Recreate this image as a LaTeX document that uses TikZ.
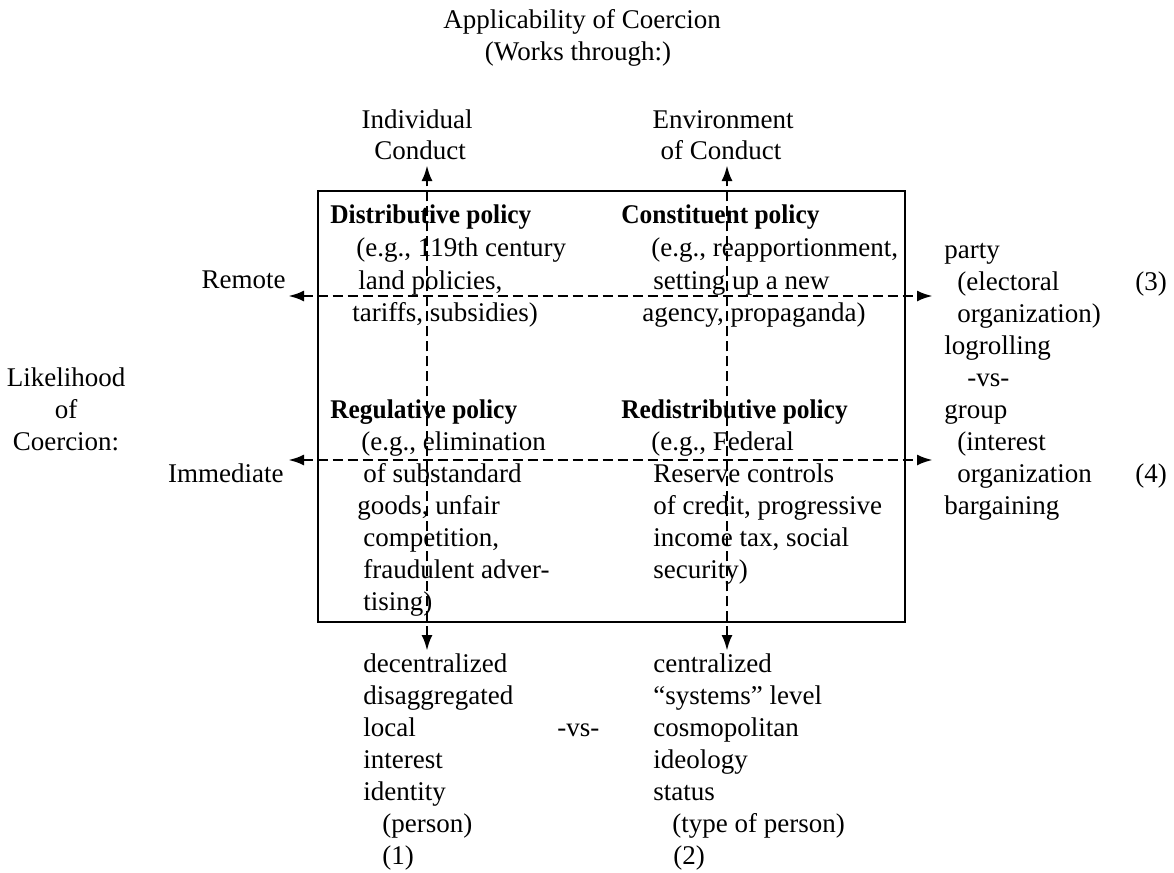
\documentclass[tikz,border=0pt]{standalone}
\usepackage{fontspec}
\setmainfont{Liberation Serif}
\newfontfamily\condbold[FakeStretch=0.94]{Liberation Serif Bold}
\usetikzlibrary{arrows.meta}
\tikzset{
  t/.style={anchor=base west, inner sep=0pt, font=\fontsize{13.5}{16}\selectfont},
  tc/.style={anchor=base, inner sep=0pt, font=\fontsize{13.5}{16}\selectfont},
  te/.style={anchor=base east, inner sep=0pt, font=\fontsize{13.5}{16}\selectfont},
  tb/.style={anchor=base west, inner sep=0pt, font=\fontsize{13.5}{16}\selectfont\condbold},
  axis/.style={line width=1.4pt, dash pattern=on 5pt off 2.5pt, {Latex[length=8pt,width=5.5pt]}-{Latex[length=8pt,width=5.5pt]}},
  frame/.style={draw, line width=1.1pt, inner sep=0pt, minimum width=293.5pt, minimum height=215.5pt}
}
\begin{document}
\begin{tikzpicture}[x=0.5pt,y=-0.5pt]
\useasboundingbox (0,0) rectangle (1174,873);
% frame
\node[frame] (box) at (611.5,406.5) {};
% titles
\node[tc] (title1) at (582,28) {Applicability of Coercion};
\node[tc] (title2) at (578,60) {(Works through:)};
\node[tc] (ind1) at (417,128) {Individual};
\node[tc] (ind2) at (420,159) {Conduct};
\node[tc] (env1) at (723,128) {Environment};
\node[tc] (env2) at (721,159) {of Conduct};
% axes
\coordinate (upL) at (427,165);
\coordinate (dnL) at (427,651);
\coordinate (upR) at (727,165);
\coordinate (dnR) at (727,651);
\coordinate (lfT) at (288,296);
\coordinate (rtT) at (933,296);
\coordinate (lfB) at (288,460);
\coordinate (rtB) at (933,460);
\draw[axis] (dnL) -- (upL);
\draw[axis] (dnR) -- (upR);
\draw[axis] (lfT) -- (rtT);
\draw[axis] (lfB) -- (rtB);
% top-left quadrant
\node[tb] (d0) at (330,223) {Distributive policy};
\node[t] (d1) at (356,256) {(e.g., 119th century};
\node[t] (d2) at (358,289) {land policies,};
\node[t] (d3) at (352,321) {tariffs, subsidies)};
% top-right quadrant
\node[tb] (c0) at (621,223) {Constituent policy};
\node[t] (c1) at (651,256) {(e.g., reapportionment,};
\node[t] (c2) at (653,289) {setting up a new};
\node[t] (c3) at (642,321) {agency, propaganda)};
% bottom-left quadrant
\node[tb] (r0) at (330,418) {Regulative policy};
\node[t] (r1) at (361,450) {(e.g., elimination};
\node[t] (r2) at (363,482) {of substandard};
\node[t] (r3) at (357,514) {goods, unfair};
\node[t] (r4) at (363,546) {competition,};
\node[t] (r5) at (363,578) {fraudulent adver-};
\node[t] (r6) at (363,610) {tising)};
% bottom-right quadrant
\node[tb] (x0) at (621,418) {Redistributive policy};
\node[t] (x1) at (651,450) {(e.g., Federal};
\node[t] (x2) at (653,482) {Reserve controls};
\node[t] (x3) at (653,514) {of credit, progressive};
\node[t] (x4) at (653,546) {income tax, social};
\node[t] (x5) at (653,578) {security)};
% right column
\node[t] (p0) at (944,258) {party};
\node[t] (p1) at (957,290) {(electoral};
\node[t] (p2) at (957,322) {organization)};
\node[t] (p3) at (944,354) {logrolling};
\node[t] (p4) at (967,386) {-vs-};
\node[t] (p5) at (944,418) {group};
\node[t] (p6) at (957,450) {(interest};
\node[t] (p7) at (957,482) {organization};
\node[t] (p8) at (944,514) {bargaining};
\node[t] (n3) at (1135,290) {(3)};
\node[t] (n4) at (1135,482) {(4)};
% left labels
\node[te] (remote) at (286,288) {Remote};
\node[te] (immed) at (284,482) {Immediate};
\node[tc] (lk1) at (66,386) {Likelihood};
\node[tc] (lk2) at (66,418) {of};
\node[tc] (lk3) at (66,450) {Coercion:};
% bottom left column
\node[t] (b0) at (363,672) {decentralized};
\node[t] (b1) at (363,704) {disaggregated};
\node[t] (b2) at (363,736) {local};
\node[t] (b3) at (363,768) {interest};
\node[t] (b4) at (363,800) {identity};
\node[t] (b5) at (382,832) {(person)};
\node[t] (b6) at (382,864) {(1)};
\node[t] (vs) at (557,736) {-vs-};
% bottom right column
\node[t] (e0) at (653,672) {centralized};
\node[t] (e1) at (653,704) {“systems” level};
\node[t] (e2) at (653,736) {cosmopolitan};
\node[t] (e3) at (653,768) {ideology};
\node[t] (e4) at (653,800) {status};
\node[t] (e5) at (672,832) {(type of person)};
\node[t] (e6) at (673,864) {(2)};
\end{tikzpicture}
\end{document}
